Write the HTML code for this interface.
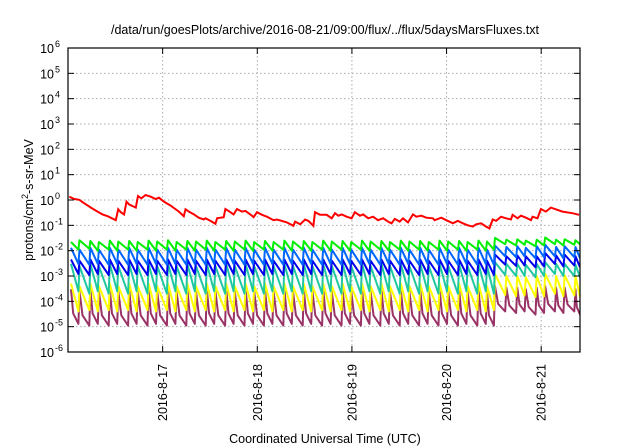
<!DOCTYPE html>
<html><head><meta charset="utf-8"><style>
html,body{margin:0;padding:0;background:#fff;}
svg{display:block;font-family:"Liberation Sans",sans-serif;}
</style></head><body>
<svg id="chart" width="640" height="448" viewBox="0 0 640 448" xmlns="http://www.w3.org/2000/svg">
<rect x="0" y="0" width="640" height="448" fill="#fff"/>
<text x="325" y="34" font-size="12.5" text-anchor="middle" fill="#000">/data/run/goesPlots/archive/2016-08-21/09:00/flux/../flux/5daysMarsFluxes.txt</text>
<g id="grid"></g><g id="series"></g><g id="axes"></g>
<text transform="translate(33,200) rotate(-90)" font-size="12.5" text-anchor="middle">protons/cm<tspan dy="-5" font-size="9">2</tspan><tspan dy="5">-s-sr-MeV</tspan></text>
<text x="325" y="443" font-size="12.5" text-anchor="middle">Coordinated Universal Time (UTC)</text>
</svg>
<script>
const yTickExps=[-6,-5,-4,-3,-2,-1,0,1,2,3,4,5,6];
const xTickDays=[17,18,19,20,21];
const xTickLabels=["2016-8-17","2016-8-18","2016-8-19","2016-8-20","2016-8-21"];
const toothTimes=[16.02,16.11,16.225,16.315,16.43,16.52,16.635,16.725,16.84,16.93,17.045,17.135,17.25,17.34,17.455,17.545,17.66,17.75,17.865,17.955,18.07,18.16,18.275,18.365,18.48,18.57,18.685,18.775,18.89,18.98,19.095,19.185,19.3,19.39,19.505,19.595,19.71,19.8,19.915,20.005,20.12,20.21,20.325,20.415,20.5,20.62,20.735,20.825,20.94,21.03,21.145,21.235,21.35];
const greenPeaks=[0.022,0.026,0.024,0.022,0.025,0.023,0.024,0.022,0.025,0.023,0.026,0.022,0.024,0.023,0.025,0.022,0.024,0.023,0.025,0.022,0.024,0.022,0.025,0.023,0.024,0.022,0.025,0.023,0.024,0.022,0.025,0.023,0.024,0.022,0.025,0.023,0.024,0.022,0.025,0.023,0.024,0.022,0.025,0.023,0.032,0.027,0.028,0.025,0.027,0.033,0.027,0.028,0.026];
const greenLows=[0.011,0.012,0.01,0.011,0.01,0.011,0.01,0.011,0.01,0.011,0.01,0.011,0.01,0.011,0.01,0.011,0.01,0.011,0.01,0.011,0.01,0.011,0.01,0.011,0.01,0.011,0.01,0.011,0.01,0.011,0.01,0.011,0.01,0.011,0.01,0.011,0.01,0.011,0.01,0.011,0.01,0.011,0.01,0.011,0.018,0.016,0.017,0.015,0.016,0.018,0.016,0.017,0.018];
const lblueP=[0.013,0.011,0.013,0.011,0.013,0.011,0.013,0.011,0.013,0.011,0.013,0.011,0.013,0.011,0.013,0.011,0.013,0.011,0.013,0.011,0.013,0.011,0.013,0.011,0.013,0.011,0.013,0.011,0.013,0.011,0.013,0.011,0.013,0.011,0.013,0.011,0.013,0.011,0.013,0.011,0.013,0.011,0.013,0.011,0.016,0.014,0.015,0.013,0.015,0.017,0.014,0.015,0.014];
const lblueL=[0.003,0.0028,0.003,0.0028,0.003,0.0028,0.003,0.0028,0.003,0.0028,0.003,0.0028,0.003,0.0028,0.003,0.0028,0.003,0.0028,0.003,0.0028,0.003,0.0028,0.003,0.0028,0.003,0.0028,0.003,0.0028,0.003,0.0028,0.003,0.0028,0.003,0.0028,0.003,0.0028,0.003,0.0028,0.003,0.0028,0.003,0.0028,0.003,0.0028,0.006,0.0055,0.006,0.005,0.0055,0.006,0.005,0.0055,0.005];
const blueP=[0.0045,0.004,0.0045,0.004,0.0045,0.004,0.0045,0.004,0.0045,0.004,0.0045,0.004,0.0045,0.004,0.0045,0.004,0.0045,0.004,0.0045,0.004,0.0045,0.004,0.0045,0.004,0.0045,0.004,0.0045,0.004,0.0045,0.004,0.0045,0.004,0.0045,0.004,0.0045,0.004,0.0045,0.004,0.0045,0.004,0.0045,0.004,0.0045,0.004,0.007,0.006,0.0065,0.006,0.006,0.008,0.0065,0.007,0.006];
const blueL=[0.0012,0.0011,0.0012,0.0011,0.0012,0.0011,0.0012,0.0011,0.0012,0.0011,0.0012,0.0011,0.0012,0.0011,0.0012,0.0011,0.0012,0.0011,0.0012,0.0011,0.0012,0.0011,0.0012,0.0011,0.0012,0.0011,0.0012,0.0011,0.0012,0.0011,0.0012,0.0011,0.0012,0.0011,0.0012,0.0011,0.0012,0.0011,0.0012,0.0011,0.0012,0.0011,0.0012,0.0011,0.0028,0.0025,0.0026,0.0022,0.0024,0.003,0.0024,0.0026,0.0022];
const tealP=[0.003,0.0025,0.003,0.0025,0.003,0.0025,0.003,0.0025,0.003,0.0025,0.003,0.0025,0.003,0.0025,0.003,0.0025,0.003,0.0025,0.003,0.0025,0.003,0.0025,0.003,0.0025,0.003,0.0025,0.003,0.0025,0.003,0.0025,0.003,0.0025,0.003,0.0025,0.003,0.0025,0.003,0.0025,0.003,0.0025,0.003,0.0025,0.003,0.0025,0.0035,0.003,0.003,0.0028,0.003,0.0035,0.003,0.003,0.0028];
const tealL=[0.00025,0.0002,0.00025,0.0002,0.00025,0.0002,0.00025,0.0002,0.00025,0.0002,0.00025,0.0002,0.00025,0.0002,0.00025,0.0002,0.00025,0.0002,0.00025,0.0002,0.00025,0.0002,0.00025,0.0002,0.00025,0.0002,0.00025,0.0002,0.00025,0.0002,0.00025,0.0002,0.00025,0.0002,0.00025,0.0002,0.00025,0.0002,0.00025,0.0002,0.00025,0.0002,0.00025,0.0002,0.0011,0.001,0.001,0.0009,0.001,0.0012,0.001,0.001,0.0009];
const yellowP=[0.0005,0.0004,0.0005,0.0004,0.0005,0.0004,0.0005,0.0004,0.0005,0.0004,0.0005,0.0004,0.0005,0.0004,0.0005,0.0004,0.0005,0.0004,0.0005,0.0004,0.0005,0.0004,0.0005,0.0004,0.0005,0.0004,0.0005,0.0004,0.0005,0.0004,0.0005,0.0004,0.0005,0.0004,0.0005,0.0004,0.0005,0.0004,0.0005,0.0004,0.0005,0.0004,0.0005,0.0004,0.0012,0.001,0.001,0.0009,0.001,0.0012,0.001,0.0011,0.001];
const yellowL=[0.00004,0.000045,0.00004,0.000045,0.00004,0.000045,0.00004,0.000045,0.00004,0.000045,0.00004,0.000045,0.00004,0.000045,0.00004,0.000045,0.00004,0.000045,0.00004,0.000045,0.00004,0.000045,0.00004,0.000045,0.00004,0.000045,0.00004,0.000045,0.00004,0.000045,0.00004,0.000045,0.00004,0.000045,0.00004,0.000045,0.00004,0.000045,0.00004,0.000045,0.00004,0.000045,0.00004,0.000045,0.00018,0.00016,0.00017,0.00015,0.00016,0.0002,0.00016,0.00017,0.00015];
const purpleP=[0.0003,0.00025,0.0003,0.00025,0.0003,0.00025,0.0003,0.00025,0.0003,0.00025,0.0003,0.00025,0.0003,0.00025,0.0003,0.00025,0.0003,0.00025,0.0003,0.00025,0.0003,0.00025,0.0003,0.00025,0.0003,0.00025,0.0003,0.00025,0.0003,0.00025,0.0003,0.00025,0.0003,0.00025,0.0003,0.00025,0.0003,0.00025,0.0003,0.00025,0.0003,0.00025,0.0003,0.00025,0.0004,0.00035,0.00035,0.0003,0.00035,0.0004,0.00035,0.00035,0.0003];
const purpleL=[0.000013,0.000011,0.000013,0.000011,0.000013,0.000011,0.000013,0.000011,0.000013,0.000011,0.000013,0.000011,0.000013,0.000011,0.000013,0.000011,0.000013,0.000011,0.000013,0.000011,0.000013,0.000011,0.000013,0.000011,0.000013,0.000011,0.000013,0.000011,0.000013,0.000011,0.000013,0.000011,0.000013,0.000011,0.000013,0.000011,0.000013,0.000011,0.000013,0.000011,0.000013,0.000011,0.000013,0.000011,0.00004,0.000035,0.00004,0.00003,0.000035,0.00004,0.000035,0.00004,0.00003];
const redDays=[16.014,16.066,16.119,16.172,16.242,16.312,16.365,16.418,16.505,16.53,16.558,16.593,16.618,16.646,16.716,16.74,16.776,16.82,16.874,16.926,16.961,17.014,17.084,17.172,17.224,17.242,17.277,17.33,17.382,17.435,17.453,17.505,17.558,17.575,17.61,17.645,17.663,17.716,17.75,17.786,17.839,17.874,17.926,17.961,17.997,18.05,18.102,18.172,18.207,18.26,18.312,18.382,18.4,18.453,18.505,18.54,18.593,18.61,18.663,18.733,18.786,18.821,18.856,18.892,18.944,18.997,19.032,19.084,19.119,19.172,19.224,19.277,19.33,19.382,19.418,19.453,19.505,19.54,19.593,19.645,19.681,19.733,19.786,19.856,19.874,19.944,19.997,20.067,20.119,20.172,20.224,20.277,20.312,20.365,20.418,20.453,20.488,20.523,20.575,20.628,20.681,20.698,20.751,20.786,20.839,20.892,20.909,20.961,20.997,21.049,21.102,21.154,21.224,21.33,21.4];
const redValues=[1.35,1.1,1.02,0.74,0.5,0.35,0.27,0.23,0.16,0.43,0.33,0.27,0.86,0.67,0.5,1.44,1.17,1.58,1.35,1.1,1.23,0.86,0.6,0.35,0.23,0.43,0.35,0.27,0.2,0.17,0.19,0.15,0.115,0.19,0.2,0.21,0.44,0.33,0.27,0.44,0.35,0.37,0.27,0.21,0.33,0.26,0.22,0.16,0.17,0.15,0.13,0.096,0.14,0.11,0.17,0.15,0.096,0.33,0.26,0.26,0.19,0.3,0.24,0.27,0.22,0.19,0.33,0.24,0.27,0.19,0.22,0.16,0.19,0.14,0.12,0.18,0.14,0.19,0.13,0.27,0.22,0.24,0.2,0.19,0.16,0.2,0.16,0.12,0.15,0.12,0.1,0.089,0.11,0.12,0.089,0.076,0.17,0.15,0.22,0.19,0.17,0.26,0.19,0.24,0.2,0.16,0.22,0.19,0.44,0.35,0.5,0.43,0.35,0.3,0.26];

const L=68,R=580,T=48,B=352,X0=16.0,X1=21.41,E0=-6,E1=6;
const NS="http://www.w3.org/2000/svg";
function xs(d){return L+(d-X0)/(X1-X0)*(R-L);}
function ys(v){return B-(Math.log10(v)-E0)/(E1-E0)*(B-T);}
function mk(tag,attrs,parent){const e=document.createElementNS(NS,tag);for(const k in attrs)e.setAttribute(k,attrs[k]);parent.appendChild(e);return e;}
const grid=document.getElementById('grid'),axes=document.getElementById('axes'),ser=document.getElementById('series');
yTickExps.forEach(ex=>{
  const y=ys(Math.pow(10,ex));
  if(ex>E0&&ex<E1){const g=mk('line',{x1:L,x2:R,y1:y,y2:y,stroke:'#aaa','stroke-width':1,'stroke-dasharray':'1.5,2.5'},grid);
  
  }
  const t1=mk('line',{x1:L,x2:L+6,y1:y,y2:y,stroke:'#000','stroke-width':1},axes);
  
  
  mk('line',{x1:R-6,x2:R,y1:y,y2:y,stroke:'#000','stroke-width':1},axes);
  const tx=mk('text',{x:54,y:y+5,'font-size':12.5,'text-anchor':'end'},axes);
  
  
  tx.textContent='10';
  const sp=mk('tspan',{x:55,y:y-1,'font-size':9,'text-anchor':'start'},tx);sp.textContent=String(ex);
});
xTickDays.forEach((d,i)=>{
  const x=xs(d);
  const g=mk('line',{x1:x,x2:x,y1:T,y2:B,stroke:'#aaa','stroke-width':1,'stroke-dasharray':'1.5,2.5'},grid);
  
  
  mk('line',{x1:x,x2:x,y1:B,y2:B-6,stroke:'#000','stroke-width':1},axes);
  mk('line',{x1:x,x2:x,y1:T,y2:T+6,stroke:'#000','stroke-width':1},axes);
  const tx=mk('text',{transform:`translate(${x+4.5},364) rotate(-90)`,'font-size':12.5,'text-anchor':'end'},axes);
  
  
  tx.textContent=xTickLabels[i];
});
const fr=mk('rect',{x:L,y:T,width:R-L,height:B-T,fill:'none',stroke:'#000','stroke-width':1.2},axes);


const clip=mk('clipPath',{id:'pc'},ser);mk('rect',{x:L,y:T,width:R-L,height:B-T},clip);
function saw(peaks,lows,curve,color,name){
  let pts=[];
  for(let i=0;i<toothTimes.length;i++){
    const t=toothTimes[i],tn=i+1<toothTimes.length?toothTimes[i+1]:X1;
    if(i>0)pts.push([xs(t),ys(lows[i-1])]);
    pts.push([xs(t+0.012),ys(peaks[i])]);
    if(curve){const lp=Math.log10(peaks[i]),ll=Math.log10(lows[i]);
      const tm=t+0.012+(tn-t-0.012)*0.3;pts.push([xs(tm),ys(Math.pow(10,lp+(ll-lp)*0.7))]);}
    pts.push([xs(tn),ys(lows[i])]);
  }
  const p=mk('polyline',{points:pts.map(q=>q[0].toFixed(1)+','+q[1].toFixed(1)).join(' '),fill:'none',stroke:color,'stroke-width':2,'stroke-linejoin':'round','clip-path':'url(#pc)'},ser);
  
  
}
saw(purpleP,purpleL,true,'#993366','series-purple');
saw(yellowP,yellowL,false,'#ffff00','series-yellow');
saw(tealP,tealL,false,'#20c8a0','series-teal');
saw(blueP,blueL,false,'#0000ee','series-blue');
saw(lblueP,lblueL,false,'#0066ff','series-lightblue');
saw(greenPeaks,greenLows,false,'#00ee00','series-green');
const rp=mk('polyline',{points:redDays.map((d,i)=>xs(d).toFixed(1)+','+ys(redValues[i]).toFixed(1)).join(' '),fill:'none',stroke:'#ff0000','stroke-width':2,'clip-path':'url(#pc)'},ser);


</script>
</body></html>
